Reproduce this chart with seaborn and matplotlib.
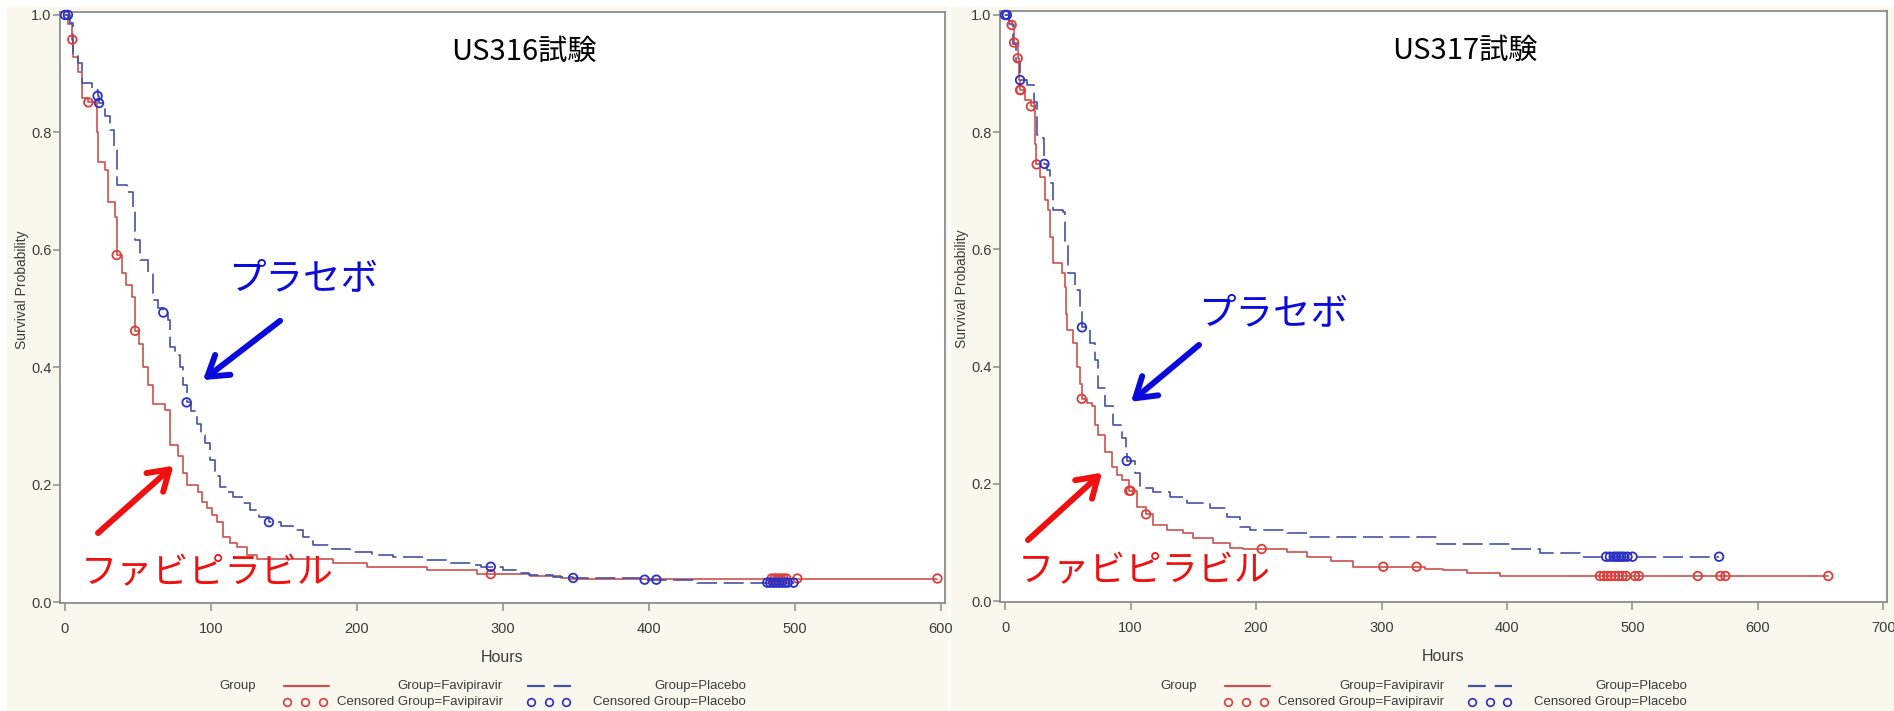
import numpy as np
import pandas as pd
import matplotlib
matplotlib.use("Agg")
import matplotlib.pyplot as plt
import seaborn as sns
from matplotlib.lines import Line2D
from matplotlib.patches import Rectangle
from matplotlib.ticker import FormatStrFormatter

# ---------------- data ----------------
# US316 – Favipiravir (step times in hours, survival after the step)
us316_fav_t = [0, 2, 5, 5.7, 9, 11.8, 16, 21.7, 22.6, 27.4, 29.7, 34, 35.4, 38.8, 42,
               45.7, 48, 51, 53.6, 57, 60.5, 68.5, 71.9, 77.6, 80.5, 83.3, 91.3, 94,
               97, 100.5, 103.9, 108.4, 113, 117.6, 124.4, 131.3, 183.8, 206.6, 247.7,
               282, 318.5, 340, 345]
us316_fav_s = [1.0, 0.985, 0.958, 0.929, 0.903, 0.858, 0.851, 0.80, 0.75, 0.736, 0.682,
               0.656, 0.591, 0.56, 0.54, 0.52, 0.462, 0.44, 0.401, 0.37, 0.338, 0.327,
               0.267, 0.248, 0.22, 0.199, 0.188, 0.17, 0.16, 0.148, 0.137, 0.111, 0.10,
               0.094, 0.08, 0.074, 0.066, 0.060, 0.0545, 0.0475, 0.044, 0.0415, 0.040]
us316_fav_cens = [5, 16, 35.4, 48, 291.6, 484, 486, 488, 490, 492, 494, 501.6, 597.5]

# US316 – Placebo
us316_pla_t = [0, 3.4, 5.7, 9.1, 11.4, 18.3, 22.3, 23.3, 27.4, 30.8, 33.8, 35.4, 42.2,
               46.8, 48, 51.4, 57.1, 60.5, 64, 67.3, 70.8, 71.9, 75, 78.8, 81, 83.3, 86,
               90.2, 93, 95.9, 99.3, 103, 106.2, 110, 115.3, 121, 126.7, 133, 139.7, 148,
               156.4, 163, 170, 183, 195.2, 210, 224.9, 245.4, 262, 279.7, 285, 300, 310,
               318, 334.5, 348, 397, 432.6]
us316_pla_s = [1.0, 0.986, 0.935, 0.918, 0.884, 0.872, 0.862, 0.85, 0.827, 0.804, 0.776,
               0.71, 0.699, 0.673, 0.617, 0.583, 0.56, 0.514, 0.50, 0.493, 0.48, 0.435,
               0.42, 0.401, 0.37, 0.34, 0.325, 0.304, 0.285, 0.27, 0.242, 0.215, 0.196,
               0.187, 0.179, 0.168, 0.157, 0.145, 0.136, 0.13, 0.123, 0.11, 0.097, 0.09,
               0.086, 0.08, 0.077, 0.0716, 0.067, 0.063, 0.060, 0.0545, 0.05, 0.046, 0.043,
               0.041, 0.038, 0.033]
us316_pla_cens = [0, 2, 22.3, 23.3, 67.3, 83.3, 139.7, 291.6, 348, 397, 405, 481, 483,
                  485, 487, 489, 491, 493, 495, 499]

# US317 – Favipiravir
us317_fav_t = [0, 3, 5.3, 7.2, 10.1, 11.4, 12, 16, 20.7, 23.4, 23.9, 24.3, 27.9, 31.9,
               34.5, 35.9, 38.5, 45.2, 47.8, 48.5, 49.1, 54.4, 57, 59.8, 61.1, 65, 69.1,
               72, 74.3, 79.7, 85, 89, 93, 99, 104.9, 112.4, 118.2, 128.8, 142.1, 150, 166,
               179.3, 190, 225, 240.4, 260, 277.5, 335, 349.3, 368, 394.4]
us317_fav_s = [1.0, 0.99, 0.983, 0.953, 0.926, 0.889, 0.872, 0.855, 0.844, 0.838, 0.78,
               0.745, 0.724, 0.684, 0.667, 0.622, 0.576, 0.559, 0.536, 0.49, 0.462, 0.44,
               0.40, 0.371, 0.345, 0.338, 0.332, 0.30, 0.283, 0.255, 0.229, 0.215, 0.206,
               0.188, 0.161, 0.148, 0.13, 0.121, 0.1155, 0.107, 0.0985, 0.09, 0.0887,
               0.083, 0.0756, 0.068, 0.0585, 0.055, 0.053, 0.047, 0.0427]
us317_fav_cens = [5.3, 7.2, 10.1, 12, 12.5, 20.7, 25.2, 61.1, 99, 100, 112.4, 204.5,
                  301.4, 328, 474, 477, 480, 483, 486, 489, 492, 495, 502, 505, 552, 570,
                  574, 656]

# US317 – Placebo
us317_pla_t = [0, 3, 6, 9, 12, 17.3, 23.4, 25.2, 27.9, 31.4, 33.5, 35.9, 38.5, 46.5,
               47.8, 50.4, 55.8, 59.8, 61.3, 67.7, 71.7, 74.4, 79.7, 86.3, 93, 96.4, 97,
               103.6, 107.6, 118.2, 131.5, 144.8, 163.3, 176.6, 187.3, 195.2, 224.4, 243,
               344, 403.7, 426.3, 458]
us317_pla_s = [1.0, 0.985, 0.95, 0.92, 0.889, 0.88, 0.852, 0.795, 0.79, 0.746, 0.735,
               0.713, 0.667, 0.664, 0.61, 0.559, 0.531, 0.497, 0.467, 0.44, 0.411, 0.363,
               0.332, 0.30, 0.278, 0.258, 0.239, 0.218, 0.192, 0.1865, 0.178, 0.1667,
               0.158, 0.144, 0.127, 0.121, 0.1155, 0.1087, 0.0968, 0.088, 0.0825, 0.0756]
us317_pla_cens = [0, 1.5, 12, 31.4, 61.3, 97, 479, 482, 485, 487, 489, 491, 493, 496,
                  500, 569]

titles = ["US316試験", "US317試験"]
x_ticks_max = [600, 700]
y_ticks = [0.0, 0.2, 0.4, 0.6, 0.8, 1.0]

# ---------------- styling ----------------
W, H = 1894, 711
CREAM = "#FAF7EE"
RED_LINE = "#C9524E"
RED_MARK = "#DE3E3A"
BLUE_LINE = "#4452A4"
BLUE_MARK = "#2B30C6"
AXIS_GRAY = "#8C8C8C"
TEXT_GRAY = "#3C3C3C"
DASH = (0, (12, 4))

sns.set_style("white")
plt.rcParams["font.family"] = ["Liberation Sans", "DejaVu Sans"]
JP = ["Noto Sans CJK JP", "DejaVu Sans"]

fig = plt.figure(figsize=(W / 100, H / 100), dpi=100, facecolor="white")


def fx(px):
    return px / W


def fy(py):
    return 1 - py / H


# cream panel backgrounds
fig.patches.append(Rectangle((fx(7), 0), (947 - 7) / W, (H - 7) / H,
                             transform=fig.transFigure, color=CREAM, zorder=-10))
fig.patches.append(Rectangle((fx(951), 0), (W - 951) / W, (H - 7) / H,
                             transform=fig.transFigure, color=CREAM, zorder=-10))


def km_frame(t, s, cens):
    tt = list(t) + [max(cens)]
    ss = list(s) + [s[-1]]
    return pd.DataFrame({"Hours": tt, "Survival": ss})


def cens_frame(t, s, cens):
    t = np.asarray(t)
    s = np.asarray(s)
    idx = np.searchsorted(t, np.asarray(cens), side="right") - 1
    return pd.DataFrame({"Hours": cens, "Survival": s[idx]})


panels = [
    dict(rect=[fx(60), fy(603), 885 / W, 591 / H], xlim=(-3.42, 602.7),
         ylim=(-0.0017, 1.005), fav=(us316_fav_t, us316_fav_s, us316_fav_cens),
         pla=(us316_pla_t, us316_pla_s, us316_pla_cens),
         blue_arrow=((147.3, 0.479), (94.5, 0.378)),
         red_arrow=((22.6, 0.1175), (74.3, 0.232)),
         pla_text=(163, 0.550), fav_text=(97.3, 0.049), ylab_x=-0.043),
    dict(rect=[fx(1000), fy(602), 887 / W, 591 / H], xlim=(-4, 702.8),
         ylim=(-0.0017, 1.0068), fav=(us317_fav_t, us317_fav_s, us317_fav_cens),
         pla=(us317_pla_t, us317_pla_s, us317_pla_cens),
         blue_arrow=((154.6, 0.437), (100.4, 0.340)),
         red_arrow=((18.3, 0.104), (77.3, 0.219)),
         pla_text=(213.5, 0.491), fav_text=(110.8, 0.051), ylab_x=-0.0428),
]

for i, p in enumerate(panels):
    ax = fig.add_axes(p["rect"])
    ax.set_facecolor("white")

    fav_df = km_frame(*p["fav"])
    pla_df = km_frame(*p["pla"])
    sns.lineplot(data=fav_df, x="Hours", y="Survival", ax=ax, color=RED_LINE,
                 lw=1.2, drawstyle="steps-post", estimator=None, sort=False, zorder=2)
    sns.lineplot(data=pla_df, x="Hours", y="Survival", ax=ax, color=BLUE_LINE,
                 lw=1.2, drawstyle="steps-post", estimator=None, sort=False,
                 linestyle=DASH, zorder=2)

    fc = cens_frame(*p["fav"])
    pc = cens_frame(*p["pla"])
    sns.scatterplot(data=fc, x="Hours", y="Survival", ax=ax, marker="o", s=38,
                    facecolor="none", edgecolor=RED_MARK, linewidth=1.3, zorder=3,
                    clip_on=False)
    sns.scatterplot(data=pc, x="Hours", y="Survival", ax=ax, marker="o", s=38,
                    facecolor="none", edgecolor=BLUE_MARK, linewidth=1.3, zorder=4,
                    clip_on=False)

    ax.set_xlim(*p["xlim"])
    ax.set_ylim(*p["ylim"])
    ax.set_xticks(list(range(0, x_ticks_max[i] + 1, 100)))
    ax.set_yticks(y_ticks)
    ax.yaxis.set_major_formatter(FormatStrFormatter("%.1f"))
    for sp in ax.spines.values():
        sp.set_color(AXIS_GRAY)
        sp.set_linewidth(1.3)
        sp.set_visible(True)
    ax.tick_params(axis="x", direction="out", length=6, width=1.1, color=AXIS_GRAY,
                   labelsize=10.5, labelcolor=TEXT_GRAY, pad=8, bottom=True)
    ax.tick_params(axis="y", direction="out", length=5, width=1.1, color=AXIS_GRAY,
                   labelsize=10.5, labelcolor=TEXT_GRAY, pad=1, left=True)

    ax.set_xlabel("Hours", fontsize=11.5, color=TEXT_GRAY, va="center")
    ax.xaxis.set_label_coords(0.5, -0.0914)
    ax.set_ylabel("Survival Probability", fontsize=10, color=TEXT_GRAY, va="center")
    ax.yaxis.set_label_coords(p["ylab_x"], 0.53)

    # title & annotations
    ax.text(0.524, 0.933, titles[i], transform=ax.transAxes, ha="center", va="center",
            fontsize=21, family=JP, color="black")
    ax.text(*p["pla_text"], "プラセボ", ha="center", va="center", fontsize=27,
            family=JP, color="#0A0ADC")
    ax.text(*p["fav_text"], "ファビピラビル", ha="center", va="center", fontsize=26,
            family=JP, color="#F01010")
    arrow_kw = dict(arrowstyle="->,head_length=0.7,head_width=0.45", lw=4.3,
                    shrinkA=0, shrinkB=0, mutation_scale=20)
    ax.annotate("", xy=p["blue_arrow"][1], xytext=p["blue_arrow"][0],
                arrowprops=dict(color="#0A0ADC", **arrow_kw))
    ax.annotate("", xy=p["red_arrow"][1], xytext=p["red_arrow"][0],
                arrowprops=dict(color="#F01010", **arrow_kw))

    # SAS-style legend below the axes
    cx = (p["rect"][0] + p["rect"][2] / 2) * W
    y1, y2 = 686, 702
    lkw = dict(fontsize=9.5, color=TEXT_GRAY, va="center")
    fig.text(fx(cx - 283.5), fy(y1), "Group", ha="left", **lkw)
    fig.add_artist(Line2D([fx(cx - 218.5), fx(cx - 173.5)], [fy(y1), fy(y1)],
                          color=RED_LINE, lw=1.6, transform=fig.transFigure))
    fig.text(fx(cx + 0.5), fy(y1), "Group=Favipiravir", ha="right", **lkw)
    fig.add_artist(Line2D([fx(cx + 24.5), fx(cx + 68.5)], [fy(y1), fy(y1)],
                          color=BLUE_LINE, lw=1.6, linestyle=(0, (8, 4)),
                          transform=fig.transFigure))
    fig.text(fx(cx + 243.5), fy(y1), "Group=Placebo", ha="right", **lkw)
    fig.add_artist(Line2D([fx(cx + d) for d in (-215.5, -197.5, -179.5)], [fy(y2)] * 3,
                          color=RED_MARK, lw=0, marker="o", markersize=5.5,
                          markerfacecolor="none", markeredgewidth=1.2,
                          transform=fig.transFigure))
    fig.text(fx(cx + 0.5), fy(y2), "Censored Group=Favipiravir", ha="right", **lkw)
    fig.add_artist(Line2D([fx(cx + d) for d in (28.5, 46.5, 63.5)], [fy(y2)] * 3,
                          color=BLUE_MARK, lw=0, marker="o", markersize=5.5,
                          markerfacecolor="none", markeredgewidth=1.2,
                          transform=fig.transFigure))
    fig.text(fx(cx + 243.5), fy(y2), "Censored Group=Placebo", ha="right", **lkw)

fig.savefig("out.png", dpi=100, facecolor=fig.get_facecolor())
